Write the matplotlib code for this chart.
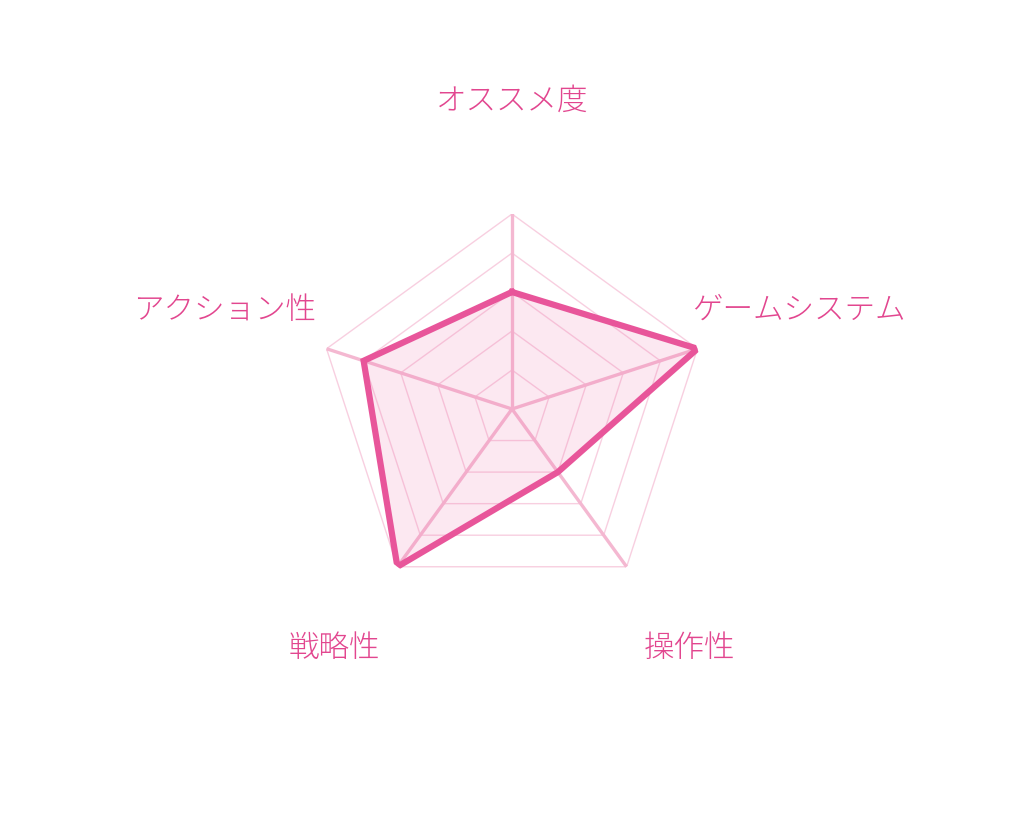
import numpy as np
import matplotlib
matplotlib.use("Agg")
import matplotlib.pyplot as plt
from matplotlib.transforms import offset_copy

plt.rcParams['font.family'] = ['Noto Sans CJK JP', 'DejaVu Sans']

categories = ["オススメ度", "ゲームシステム", "操作性", "戦略性", "アクション性"]
values = [3, 5, 2, 5, 4]
max_value = 5
levels = [1, 2, 3, 4, 5]

line_color = "#e8559a"
fill_color = "#f07ab0"
ring_color = "#f8cfe0"
spoke_color = "#f4b8d1"
label_color = "#e2468f"

W, H = 1024, 820
fig = plt.figure(figsize=(W / 100, H / 100), dpi=100)
cx, cy, R = 512, 410, 195
ax = fig.add_axes([(cx - R) / W, (H - cy - R) / H, 2 * R / W, 2 * R / H], projection='polar')
ax.set_theta_offset(np.pi / 2)
ax.set_theta_direction(-1)
ax.set_ylim(0, max_value)
ax.axis('off')

n = len(categories)
angles = np.linspace(0, 2 * np.pi, n, endpoint=False)
closed = np.concatenate([angles, angles[:1]])

# grid rings
for lv in levels:
    ax.plot(closed, [lv] * (n + 1), color=ring_color, lw=1.0, zorder=1)
# spokes
for a in angles:
    ax.plot([a, a], [0, max_value], color=spoke_color, lw=2.4, zorder=1)

vals = np.array(values + values[:1], dtype=float)
ax.fill(closed, vals, color=fill_color, alpha=0.17, zorder=2, lw=0)
ax.plot(closed, vals, color=line_color, lw=4.5, zorder=4, solid_joinstyle='miter')

# label placement (theta in degrees clockwise from top, radius in value units)
label_theta = [0, 70.3, 142.9, 217.1, 289.7]
label_r = [8.0, 7.82, 7.56, 7.56, 7.84]
tr = offset_copy(ax.transData, fig=fig, x=0, y=-3, units='dots')
for lab, th, lr in zip(categories, label_theta, label_r):
    ax.text(np.deg2rad(th), lr, lab, ha='center', va='center', fontsize=22,
            color=label_color, clip_on=False, fontweight='light', transform=tr)

fig.savefig("out.png", dpi=100, facecolor="white")
